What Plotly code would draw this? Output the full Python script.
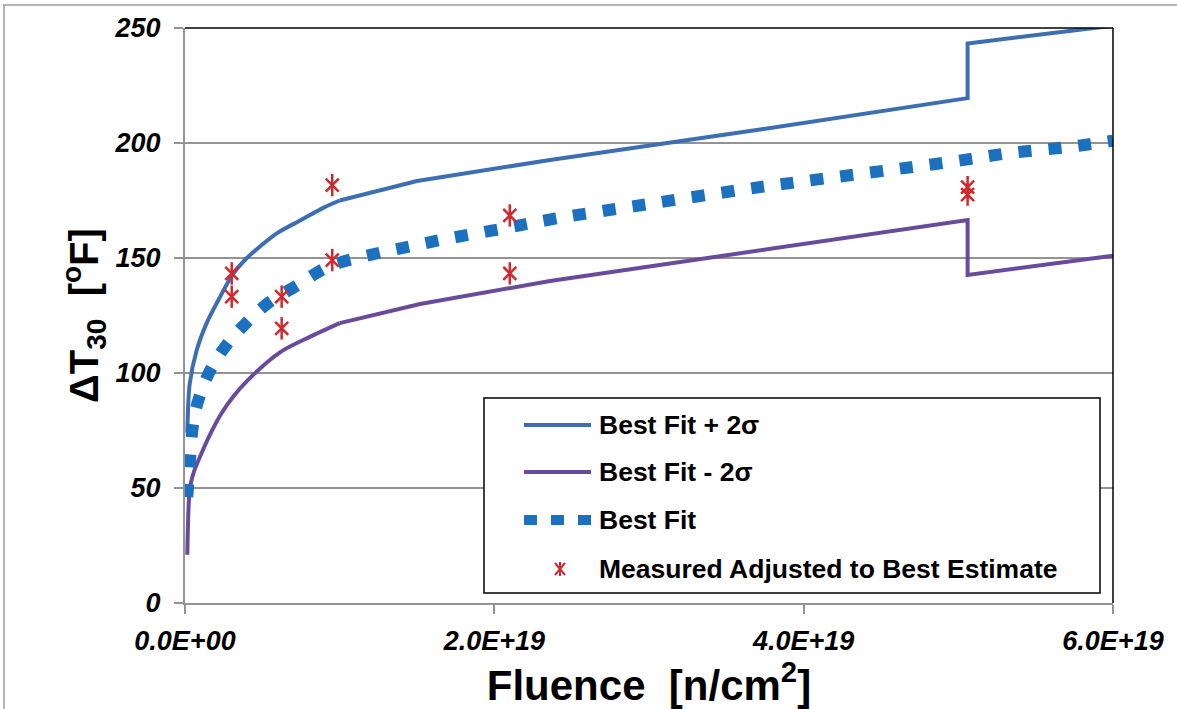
import plotly.graph_objects as go

# ---------------- data (fluence in n/cm^2, ΔT30 in °F) ----------------
upper_f = [1.5e17, 3.0e17, 7.6e17, 1.4e18, 2.26e18, 3.1e18, 4.0e18, 4.85e18, 6.0e18,
           7.5e18, 9.0e18, 1.0e19, 1.5e19, 2.36e19, 3.73e19, 5.06e19, 5.06e19, 6.0e19]
upper_v = [74, 95, 110, 121.7, 133, 143, 150, 155, 161,
           166.5, 172, 175, 183.5, 192.6, 206, 219.5, 243.3, 251]

lower_f = [1.5e17, 3.2e17, 6.0e17, 9.7e17, 1.6e18, 2.37e18, 3.1e18, 4.0e18, 6.14e18,
           8.1e18, 1.0e19, 1.52e19, 2.36e19, 3.73e19, 5.06e19, 5.06e19, 6.0e19]
lower_v = [21, 50, 57.5, 63.6, 73, 82.6, 89.6, 96.5, 109,
           115.8, 121.7, 130, 140, 153.5, 166.5, 142.6, 151]

best_f = [1.5e17, 3.2e17, 5.5e17, 9.0e17, 1.73e18, 2.78e18, 4.07e18, 5.5e18, 7.24e18,
          8.9e18, 1.0e19, 1.26e19, 1.45e19, 1.65e19, 2.04e19, 2.4e19, 3.0e19, 3.59e19,
          3.98e19, 4.56e19, 4.96e19, 5.33e19, 5.72e19, 6.0e19]
best_v = [46, 62, 79, 89, 102.5, 113, 122.5, 131, 138,
          145, 148, 152.3, 155, 157.8, 162.6, 167.2, 173.5, 179.6,
          183.2, 188.3, 191.9, 195.6, 198.3, 201]

meas_f = [3.02e18, 3.02e18, 6.25e18, 6.25e18, 9.52e18, 9.52e18, 2.10e19, 2.10e19, 5.06e19, 5.06e19]
meas_v = [143.3, 133.2, 133.2, 119.4, 181.7, 149.1, 168.5, 143.3, 180.8, 177.6]

x_tickvals = [0, 2e19, 4e19, 6e19]
x_ticktext = ["0.0E+00", "2.0E+19", "4.0E+19", "6.0E+19"]
y_tickvals = [0, 50, 100, 150, 200, 250]

legend_labels = ["Best Fit + 2σ", "Best Fit - 2σ", "Best Fit", "Measured Adjusted to Best Estimate"]

# ---------------- styles ----------------
C_UP = "#3e6eb2"
C_LO = "#6a4b9b"
C_BF = "#1b70bf"
C_RED = "#d0282c"
GRID = "#939393"
FONT = "Liberation Sans"

W, H = 1177, 709
L, R, T, B = 185, 64, 28, 106
PW, PH = W - L - R, H - T - B


def px(x):
    return (x - L) / PW


def py(y):
    return (H - B - y) / PH


# index of the 1.0E+19 knee in each bound (curved part before, straight after)
ku = upper_f.index(1.0e19)
kl = lower_f.index(1.0e19)

fig = go.Figure()
fig.add_trace(go.Scatter(x=upper_f[:ku + 1], y=upper_v[:ku + 1], mode="lines", line_shape="spline",
                         line=dict(color=C_UP, width=4, smoothing=0.8), name=legend_labels[0]))
fig.add_trace(go.Scatter(x=upper_f[ku:], y=upper_v[ku:], mode="lines",
                         line=dict(color=C_UP, width=4), showlegend=False))
fig.add_trace(go.Scatter(x=lower_f[:kl + 1], y=lower_v[:kl + 1], mode="lines", line_shape="spline",
                         line=dict(color=C_LO, width=4, smoothing=0.8), name=legend_labels[1]))
fig.add_trace(go.Scatter(x=lower_f[kl:], y=lower_v[kl:], mode="lines",
                         line=dict(color=C_LO, width=4), showlegend=False))
fig.add_trace(go.Scatter(x=best_f, y=best_v, mode="lines", line_shape="spline",
                         line=dict(color=C_BF, width=12, dash="13px,17px"), name=legend_labels[2]))
fig.add_trace(go.Scatter(x=meas_f, y=meas_v, mode="markers", name=legend_labels[3],
                         marker=dict(symbol="x-thin-open", size=13, color=C_RED,
                                     line=dict(color=C_RED, width=2.5))))
fig.add_trace(go.Scatter(x=meas_f, y=meas_v, mode="markers", showlegend=False,
                         marker=dict(symbol="line-ns-open", size=16, color=C_RED,
                                     line=dict(color=C_RED, width=2.5))))

shapes = []
# outer chart border
shapes.append(dict(type="rect", xref="paper", yref="paper",
                   x0=px(4), x1=px(1185), y0=py(720), y1=py(5),
                   line=dict(color="#b4b4b4", width=2), layer="below"))
# plot area frame (top & right)
shapes.append(dict(type="line", xref="paper", yref="paper", x0=0, x1=1, y0=1, y1=1,
                   line=dict(color="black", width=1.5)))
shapes.append(dict(type="line", xref="paper", yref="paper", x0=1, x1=1, y0=0, y1=1,
                   line=dict(color="black", width=1.5)))

# manual legend
LX0, LX1, LY0, LY1 = 484, 1100, 398, 593
shapes.append(dict(type="rect", xref="paper", yref="paper",
                   x0=px(LX0), x1=px(LX1), y0=py(LY1), y1=py(LY0),
                   line=dict(color="black", width=1.5), fillcolor="white", layer="above"))
rows = [425, 472, 520, 569]
shapes.append(dict(type="line", xref="paper", yref="paper", x0=px(524), x1=px(591),
                   y0=py(rows[0]), y1=py(rows[0]), line=dict(color=C_UP, width=4)))
shapes.append(dict(type="line", xref="paper", yref="paper", x0=px(524), x1=px(591),
                   y0=py(rows[1]), y1=py(rows[1]), line=dict(color=C_LO, width=4)))
shapes.append(dict(type="line", xref="paper", yref="paper", x0=px(524), x1=px(591),
                   y0=py(rows[2]), y1=py(rows[2]), line=dict(color=C_BF, width=10, dash="13px,14px")))
shapes.append(dict(type="path", xref="paper", yref="paper", xsizemode="pixel", ysizemode="pixel",
                   xanchor=px(560), yanchor=py(rows[3]),
                   path="M-5,-6 L5,6 M-5,6 L5,-6 M0,-7 L0,7",
                   line=dict(color=C_RED, width=2)))

annotations = []
for lab, ry in zip(legend_labels, rows):
    annotations.append(dict(xref="paper", yref="paper", x=px(597), y=py(ry),
                            xanchor="left", yanchor="middle", showarrow=False, text=lab,
                            font=dict(family=FONT, size=26.5, color="black", weight="bold")))

fig.update_layout(
    width=W, height=H,
    margin=dict(l=L, r=R, t=T, b=B),
    paper_bgcolor="white", plot_bgcolor="rgba(0,0,0,0)",
    showlegend=False,
    shapes=shapes, annotations=annotations,
    xaxis=dict(range=[0, 6e19], tickvals=x_tickvals, ticktext=x_ticktext,
               showgrid=False, zeroline=False, showline=True, linecolor=GRID, linewidth=2,
               ticks="outside", ticklen=9, tickwidth=2, tickcolor=GRID,
               ticklabelstandoff=4,
               tickfont=dict(family=FONT, size=27, color="black", weight="bold", style="italic"),
               title=dict(text="Fluence\u00a0\u00a0[n/cm<sup>2</sup>]", standoff=10,
                          font=dict(family=FONT, size=42, color="black", weight="bold"))),
    yaxis=dict(range=[0, 250], tickvals=y_tickvals,
               showgrid=True, gridcolor=GRID, gridwidth=2, zeroline=False,
               showline=True, linecolor=GRID, linewidth=2,
               ticks="outside", ticklen=9, tickwidth=2, tickcolor=GRID,
               ticklabelstandoff=8,
               tickfont=dict(family=FONT, size=27, color="black", weight="bold", style="italic"),
               title=dict(text="ΔT<sub>30</sub>\u00a0\u00a0[<sup>o</sup>F]", standoff=4,
                          font=dict(family=FONT, size=40, color="black", weight="bold"))),
)

fig.write_html("out.html", config={"displayModeBar": False},
               post_script="document.body.style.margin='0';document.body.style.overflow='hidden';")
